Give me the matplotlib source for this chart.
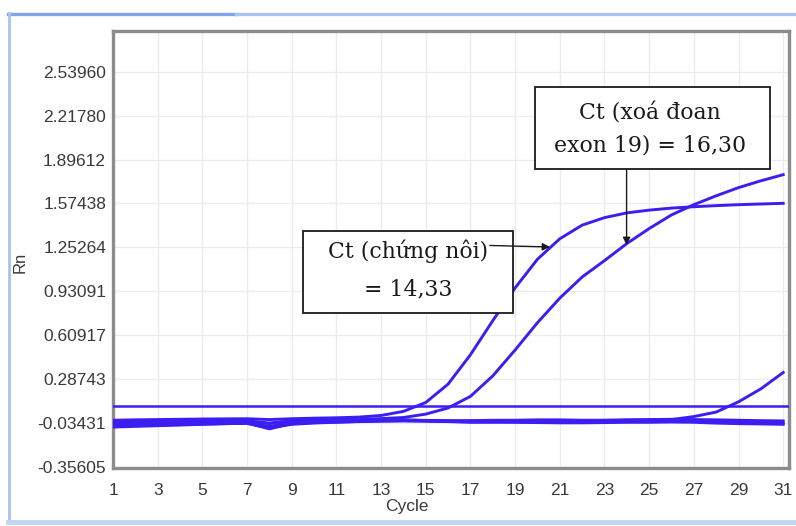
import matplotlib
matplotlib.use('Agg')
import matplotlib.pyplot as plt
from matplotlib.lines import Line2D
from matplotlib.patches import Rectangle

# ---------------- data ----------------
cycles = list(range(1, 32))

internal_control = [-0.015, -0.012, -0.010, -0.008, -0.006, -0.005, -0.004, -0.010, -0.004, 0.000,
                    0.003, 0.008, 0.020, 0.050, 0.115, 0.250, 0.465, 0.715, 0.955, 1.165,
                    1.315, 1.415, 1.470, 1.505, 1.525, 1.540, 1.550, 1.558, 1.565, 1.570, 1.575]

exon19_deletion = [-0.040, -0.037, -0.034, -0.030, -0.027, -0.024, -0.022, -0.035, -0.020, -0.016,
                   -0.012, -0.008, -0.003, 0.005, 0.030, 0.075, 0.160, 0.310, 0.500, 0.700,
                   0.880, 1.035, 1.155, 1.280, 1.390, 1.490, 1.565, 1.630, 1.690, 1.740, 1.785]

late_sample = [-0.030, -0.028, -0.026, -0.024, -0.022, -0.020, -0.019, -0.040, -0.020, -0.018,
               -0.016, -0.015, -0.014, -0.014, -0.016, -0.018, -0.020, -0.020, -0.019, -0.018,
               -0.018, -0.017, -0.016, -0.015, -0.013, -0.010, 0.012, 0.045, 0.120, 0.215, 0.335]

negative_1 = [-0.065, -0.060, -0.055, -0.050, -0.045, -0.040, -0.038, -0.070, -0.045, -0.035,
              -0.030, -0.025, -0.022, -0.020, -0.022, -0.025, -0.030, -0.030, -0.028, -0.028,
              -0.030, -0.030, -0.028, -0.025, -0.025, -0.022, -0.020, -0.025, -0.030, -0.032, -0.035]

negative_2 = [-0.050, -0.048, -0.045, -0.042, -0.040, -0.036, -0.033, -0.060, -0.035, -0.030,
              -0.025, -0.020, -0.015, -0.012, -0.018, -0.020, -0.018, -0.015, -0.015, -0.012,
              -0.012, -0.015, -0.015, -0.012, -0.010, -0.008, -0.010, -0.012, -0.015, -0.018, -0.020]

negative_3 = [-0.058, -0.054, -0.050, -0.047, -0.043, -0.040, -0.036, -0.078, -0.040, -0.033,
              -0.028, -0.024, -0.020, -0.018, -0.020, -0.024, -0.026, -0.026, -0.030, -0.032,
              -0.034, -0.034, -0.032, -0.030, -0.030, -0.028, -0.030, -0.036, -0.040, -0.042, -0.045]

threshold = 0.093

y_ticks = [-0.35605, -0.03431, 0.28743, 0.60917, 0.93091, 1.25264, 1.57438, 1.89612, 2.21780, 2.53960]
y_tick_labels = ["-0.35605", "-0.03431", "0.28743", "0.60917", "0.93091",
                 "1.25264", "1.57438", "1.89612", "2.21780", "2.53960"]
x_ticks = list(range(1, 32, 2))
x_tick_labels = [str(v) for v in x_ticks]

label_ic = ["Ct (chứng nôi)", "= 14,33"]
label_del = ["Ct (xoá đoan", "exon 19) = 16,30"]

# ---------------- figure ----------------
W, H = 796, 526
fig = plt.figure(figsize=(W / 100, H / 100), dpi=100)
fig.patch.set_facecolor('white')

def fx(px):
    return px / W

def fy(py):
    return 1 - py / H

sans = ['Liberation Sans', 'DejaVu Sans']
ax = fig.add_axes([fx(113), fy(468), fx(789) - fx(113), fy(31) - fy(468)])
ax.set_xlim(1, 31.26)
ax.set_ylim(-0.365, 2.838)

curve_color = '#3c1ef2'
for series in (negative_1, negative_3, negative_2, late_sample, exon19_deletion, internal_control):
    ax.plot(cycles, series, color=curve_color, lw=2.1, solid_joinstyle='round', zorder=3)
ax.axhline(threshold, color=curve_color, lw=1.8, zorder=3)

ax.set_xticks(x_ticks)
ax.set_xticklabels(x_tick_labels)
ax.set_yticks(y_ticks)
ax.set_yticklabels(y_tick_labels)
ax.tick_params(length=0, labelsize=12.5, labelcolor='#3a3a3a')
ax.tick_params(axis='x', pad=11)
ax.tick_params(axis='y', pad=5)
for lab in ax.get_xticklabels() + ax.get_yticklabels():
    lab.set_family(sans)
ax.grid(True, color='#ececec', lw=1.0, zorder=0)
for s in ax.spines.values():
    s.set_color('#8c8c8c')
    s.set_linewidth(2.4)

fig.text(fx(407), fy(506), "Cycle", fontsize=12.5, color='#3a3a3a', family=sans,
         ha='center', va='center')
fig.text(fx(20), fy(262), "Rn", rotation=90, fontsize=12, color='#3a3a3a',
         ha='center', va='center', family=sans)

# ---------------- annotation boxes ----------------
serif = ['DejaVu Serif']
ink = '#1a1a1a'
ax.add_patch(Rectangle((9.51, 0.773), 18.89 - 9.51, 1.372 - 0.773, facecolor='white',
                       edgecolor=ink, lw=1.3, zorder=5))
ax.text(14.2, 1.172, label_ic[0], ha='center', va='baseline', fontsize=15.8,
        color=ink, family=serif, zorder=6)
ax.text(14.2, 0.903, label_ic[1], ha='center', va='baseline', fontsize=15.8,
        color=ink, family=serif, zorder=6)
ax.annotate("", xy=(20.56, 1.255), xytext=(17.87, 1.266),
            arrowprops=dict(arrowstyle='-|>', color=ink, lw=1.0, mutation_scale=11,
                            shrinkA=0, shrinkB=0), zorder=7)

ax.add_patch(Rectangle((19.89, 1.824), 30.41 - 19.89, 2.430 - 1.824, facecolor='white',
                       edgecolor=ink, lw=1.3, zorder=5))
ax.text(25.04, 2.191, label_del[0], ha='center', va='baseline', fontsize=15.8,
        color=ink, family=serif, zorder=6)
ax.text(25.04, 1.953, label_del[1], ha='center', va='baseline', fontsize=15.8,
        color=ink, family=serif, zorder=6)
ax.annotate("", xy=(23.99, 1.270), xytext=(23.99, 1.824),
            arrowprops=dict(arrowstyle='-|>', color=ink, lw=1.0, mutation_scale=11,
                            shrinkA=0, shrinkB=0), zorder=7)

# ---------------- outer frame ----------------
fig.add_artist(Line2D([fx(8), fx(236)], [fy(13.5), fy(13.5)], color='#7fa5ea', lw=2.4))
fig.add_artist(Line2D([fx(236), fx(796)], [fy(13.5), fy(13.5)], color='#a9c2f0', lw=2.4))
fig.add_artist(Line2D([fx(9), fx(9)], [fy(13), fy(522)], color='#a9c2f0', lw=2.0))
fig.add_artist(Line2D([fx(8), fx(796)], [fy(521.5), fy(521.5)], color='#c3d4f4', lw=3.5))

fig.savefig('out.png', dpi=100, facecolor='white')
